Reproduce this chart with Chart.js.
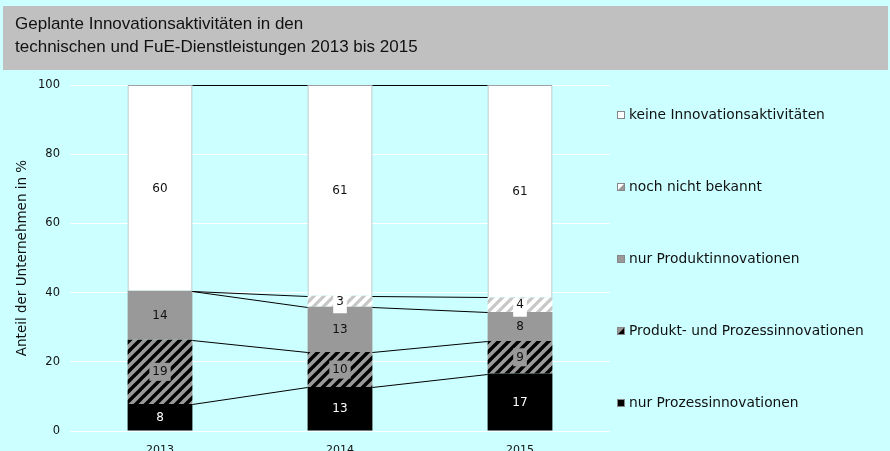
<!DOCTYPE html>
<html>
<head>
<meta charset="utf-8">
<script src="https://cdn.jsdelivr.net/npm/chart.js@4.4.0/dist/chart.umd.min.js"></script>
<style>
  html, body { margin: 0; padding: 0; background: #ccffff; }
  #wrap { width: 890px; height: 451px; position: relative; }
</style>
</head>
<body>
<div id="wrap"><canvas id="chart"></canvas></div>
<script>
"use strict";

// --- data (bottom segment first) ---
const years = ["2013", "2014", "2015"];
const seriesNames = [
  "nur Prozessinnovationen",
  "Produkt- und Prozessinnovationen",
  "nur Produktinnovationen",
  "noch nicht bekannt",
  "keine Innovationsaktivitäten",
];
const nurProzess        = [7.8, 12.7, 16.6];
const produktUndProzess = [18.6, 10.1, 9.4];
const nurProdukt        = [14.1, 13.1, 8.4];
const nochNichtBekannt  = [0, 3.2, 4.2];
const keineAktivitaet   = [59.5, 60.9, 61.4];
const yTicks = [0, 20, 40, 60, 80, 100];
const titleLines = [
  "Geplante Innovationsaktivitäten in den",
  "technischen und FuE-Dienstleistungen 2013 bis 2015",
];
const yAxisTitle = "Anteil der Unternehmen in %";

// colours
const C = {
  bg:    "#ccffff",
  band:  "#c0c0c0",
  gray:  "#999999",
  light: "#c8c8c8",
  black: "#000000",
  white: "#ffffff",
  text:  "#111111",
};
const FONT = "'DejaVu Sans', Verdana, sans-serif";

// diagonal "/" stripe pattern
function stripes(bg, fg, period, width) {
  const c = document.createElement("canvas");
  c.width = period;
  c.height = period;
  const x = c.getContext("2d");
  x.fillStyle = bg;
  x.fillRect(0, 0, period, period);
  x.strokeStyle = fg;
  x.lineWidth = width;
  x.beginPath();
  [-period, 0, period].forEach((o) => {
    x.moveTo(o - 1, period + 1);
    x.lineTo(o + period + 1, -1);
  });
  x.stroke();
  return x.createPattern(c, "repeat");
}

const hatchDark  = stripes(C.gray, C.black, 10, 3.4);
const hatchLight = stripes(C.white, C.light, 10, 3.2);

const seriesValues = [nurProzess, produktUndProzess, nurProdukt, nochNichtBekannt, keineAktivitaet];
const fills  = [C.black, hatchDark, C.gray, hatchLight, C.white];
// label look per series: text colour, box colour (null = no box)
const labelStyle = [
  { color: "#ffffff", box: null },
  { color: C.text, box: C.gray },
  { color: C.text, box: null },
  { color: C.text, box: C.white, tall: true },
  { color: C.text, box: null },
];

// background + grey title band
const backdrop = {
  id: "backdrop",
  beforeDraw(chart) {
    const { ctx, width, height } = chart;
    ctx.save();
    ctx.fillStyle = C.bg;
    ctx.fillRect(0, 0, width, height);
    ctx.fillStyle = C.band;
    ctx.fillRect(3, 6, 885, 64);
    ctx.fillStyle = C.text;
    ctx.font = "17px 'Liberation Sans', Arial, sans-serif";
    ctx.textBaseline = "alphabetic";
    ctx.textAlign = "left";
    ctx.fillText(titleLines[0], 15, 29);
    ctx.fillText(titleLines[1], 15, 52);
    ctx.restore();
  },
};

// Excel-style series lines between bars + value labels
const seriesLinesAndLabels = {
  id: "seriesLines",
  afterDatasetsDraw(chart) {
    const { ctx } = chart;
    ctx.save();
    ctx.strokeStyle = C.black;
    ctx.lineWidth = 1;
    chart.data.datasets.forEach((ds, i) => {
      const bars = chart.getDatasetMeta(i).data;
      for (let j = 0; j < bars.length - 1; j++) {
        const a = bars[j], b = bars[j + 1];
        ctx.beginPath();
        ctx.moveTo(a.x + a.width / 2, Math.round(a.y) + 0.5);
        ctx.lineTo(b.x - b.width / 2, Math.round(b.y) + 0.5);
        ctx.stroke();
      }
    });

    ctx.font = `12px ${FONT}`;
    ctx.textAlign = "center";
    ctx.textBaseline = "middle";
    chart.data.datasets.forEach((ds, i) => {
      const bars = chart.getDatasetMeta(i).data;
      const st = labelStyle[i];
      bars.forEach((bar, j) => {
        const v = ds.data[j];
        if (!v) return;
        const txt = String(Math.round(v));
        const cy = (bar.y + bar.base) / 2;
        if (st.box) {
          const w = ctx.measureText(txt).width + 6;
          ctx.fillStyle = st.box;
          if (st.tall) ctx.fillRect(bar.x - w / 2, cy - 6, w, 18);
          else ctx.fillRect(bar.x - w / 2, cy - 9, w, 18);
        }
        ctx.fillStyle = st.color;
        ctx.fillText(txt, bar.x, cy + 0.5);
      });
    });
    ctx.restore();
  },
};

// legend drawn on the right, top entry = top segment
const sideLegend = {
  id: "sideLegend",
  afterDraw(chart) {
    const { ctx } = chart;
    ctx.save();
    ctx.font = `13.8px ${FONT}`;
    ctx.textBaseline = "middle";
    ctx.textAlign = "left";
    for (let k = 0; k < seriesNames.length; k++) {
      const i = seriesNames.length - 1 - k;
      const y = 115 + k * 72;
      const bx = 617, by = Math.round(y) - 4;
      ctx.fillStyle = i === 0 ? C.black : (i === 4 || i === 3 ? C.white : C.gray);
      ctx.fillRect(bx, by, 8, 8);
      if (i === 1 || i === 3) {
        ctx.fillStyle = i === 1 ? C.black : C.gray;
        ctx.beginPath();
        ctx.moveTo(bx + 8, by);
        ctx.lineTo(bx + 8, by + 8);
        ctx.lineTo(bx, by + 8);
        ctx.closePath();
        ctx.fill();
      }
      ctx.strokeStyle = "#888888";
      ctx.lineWidth = 1;
      ctx.strokeRect(bx + 0.5, by + 0.5, 7, 7);
      ctx.fillStyle = C.text;
      ctx.fillText(seriesNames[i], 629, y + 0.5);
    }
    ctx.restore();
  },
};

new Chart(document.getElementById("chart"), {
  type: "bar",
  data: {
    labels: years,
    datasets: seriesNames.map((name, i) => ({
      label: name,
      data: seriesValues[i],
      backgroundColor: fills[i],
      borderColor: i === 4 ? "#a0a0a0" : "rgba(0,0,0,0)",
      borderWidth: i === 4 ? 1 : 0,
      borderSkipped: i === 4 ? "bottom" : false,
      barPercentage: 0.36,
      categoryPercentage: 1,
    })),
  },
  options: {
    responsive: true,
    maintainAspectRatio: false,
    animation: false,
    devicePixelRatio: 1,
    layout: { padding: { left: 0, right: 280, top: 85, bottom: 0 } },
    plugins: {
      legend: { display: false },
      title: { display: false },
      tooltip: { enabled: false },
    },
    scales: {
      x: {
        stacked: true,
        grid: { display: false },
        border: { display: false },
        ticks: { color: C.text, font: { family: FONT, size: 11 }, padding: 5 },
        afterFit(scale) { scale.height = 20; },
      },
      y: {
        stacked: true,
        min: 0,
        max: 100,
        afterBuildTicks(scale) { scale.ticks = yTicks.map((v) => ({ value: v })); },
        grid: { color: C.white, lineWidth: 1, drawTicks: false },
        border: { display: false },
        ticks: { color: C.text, font: { family: FONT, size: 11.5 }, padding: 10 },
        title: {
          display: true,
          text: yAxisTitle,
          color: C.text,
          font: { family: FONT, size: 13.5 },
          padding: { top: 14, bottom: 0 },
        },
        afterFit(scale) { scale.width = 70; },
      },
    },
  },
  plugins: [backdrop, seriesLinesAndLabels, sideLegend],
});
</script>
</body>
</html>
